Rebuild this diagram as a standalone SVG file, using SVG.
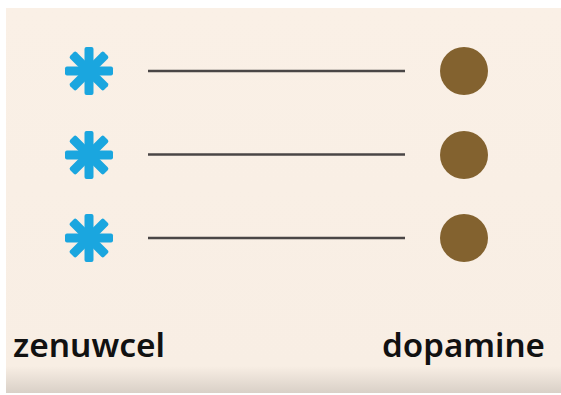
<svg xmlns="http://www.w3.org/2000/svg" width="561" height="395" viewBox="0 0 561 395">
<defs>
<linearGradient id="bg" x1="0" y1="0" x2="0" y2="1">
<stop offset="0" stop-color="#faf0e6"/>
<stop offset="0.93" stop-color="#f8eee4"/>
<stop offset="1" stop-color="#d9d0c7"/>
</linearGradient>
<g id="star">
<rect x="-24" y="-4.5" width="48" height="9" rx="2"/>
<rect x="-24" y="-4.5" width="48" height="9" rx="2" transform="rotate(45)"/>
<rect x="-24" y="-4.5" width="48" height="9" rx="2" transform="rotate(90)"/>
<rect x="-24" y="-4.5" width="48" height="9" rx="2" transform="rotate(135)"/>
</g>
</defs>
<style>
.star{fill:#1aa6df}
.dot{fill:#83622f}
.conn line{stroke:#4a4646;stroke-width:2.5}
.lbl{font-family:"Noto Sans","Open Sans",sans-serif;font-weight:600;font-size:33px;fill:#111}
</style>
<rect width="561" height="395" fill="#ffffff"/>
<rect x="6" y="8" width="555" height="385" fill="url(#bg)"/>
<g id="zenuwcel1"><use href="#star" class="star" x="89" y="71"/></g>
<g id="zenuwcel2"><use href="#star" class="star" x="89" y="155"/></g>
<g id="zenuwcel3"><use href="#star" class="star" x="89" y="238"/></g>
<g id="dopamine1"><circle class="dot" cx="464" cy="71" r="24"/></g>
<g id="dopamine2"><circle class="dot" cx="464" cy="155" r="24"/></g>
<g id="dopamine3"><circle class="dot" cx="464" cy="238" r="24"/></g>
<g class="conn" id="connectors">
<line x1="148" y1="71" x2="405" y2="71"/>
<line x1="148" y1="154.5" x2="405" y2="154.5"/>
<line x1="148" y1="238" x2="405" y2="238"/>
</g>
<g id="labels">
<text class="lbl" x="13" y="357" textLength="152" lengthAdjust="spacingAndGlyphs">zenuwcel</text>
<text class="lbl" x="382" y="357" textLength="163" lengthAdjust="spacingAndGlyphs">dopamine</text>
</g>
</svg>
